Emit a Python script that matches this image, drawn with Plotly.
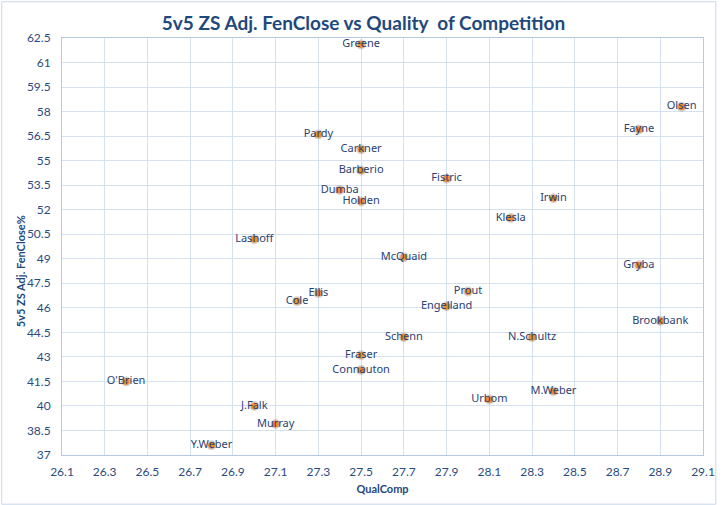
import plotly.graph_objects as go

# jugadores, QualComp (x) y FenClose% ajustado (y)
players = ["Greene", "Pardy", "Carkner", "Barberio", "Fistric", "Dumba", "Holden",
           "Lashoff", "McQuaid", "Ellis", "Cole", "Prout", "Engelland", "Schenn",
           "Fraser", "Connauton", "J.Falk", "Murray", "O'Brien", "Y.Weber",
           "Olsen", "Fayne", "Irwin", "Klesla", "Gryba", "Brookbank", "N.Schultz",
           "M.Weber", "Urbom"]
qualcomp = [27.5, 27.3, 27.5, 27.5, 27.9, 27.4, 27.5,
            27.0, 27.7, 27.3, 27.2, 28.0, 27.9, 27.7,
            27.5, 27.5, 27.0, 27.1, 26.4, 26.8,
            29.0, 28.8, 28.4, 28.2, 28.8, 28.9, 28.3,
            28.4, 28.1]
fenclose = [62.1, 56.6, 55.7, 54.4, 53.9, 53.2, 52.5,
            50.2, 49.1, 46.9, 46.4, 47.0, 46.1, 44.2,
            43.1, 42.2, 40.0, 38.9, 41.5, 37.6,
            58.3, 56.9, 52.7, 51.5, 48.6, 45.2, 44.2,
            40.9, 40.4]

x_ticks = [26.1, 26.3, 26.5, 26.7, 26.9, 27.1, 27.3, 27.5, 27.7, 27.9, 28.1, 28.3, 28.5, 28.7, 28.9, 29.1]
y_ticks = [37, 38.5, 40, 41.5, 43, 44.5, 46, 47.5, 49, 50.5, 52, 53.5, 55, 56.5, 58, 59.5, 61, 62.5]

navy = "#1F497D"
grid = "#D6E1EF"

fig = go.Figure()
# sombra de los puntos
fig.add_trace(go.Scatter(x=qualcomp, y=fenclose, mode="markers",
                         marker=dict(size=10, color="rgba(90,90,90,0.25)"),
                         hoverinfo="skip", showlegend=False))
fig.add_trace(go.Scatter(
    x=qualcomp, y=fenclose, mode="markers+text", text=players,
    textposition="middle center",
    textfont=dict(family="Noto Sans", size=11, color="#2B3F72"),
    marker=dict(size=7, color="#F38B2F"),
    showlegend=False))

fig.update_layout(
    width=727, height=505,
    margin=dict(l=62, r=19, t=38, b=50),
    paper_bgcolor="white", plot_bgcolor="white",
    title=dict(text="<b>5v5 ZS Adj. FenClose vs Quality  of Competition</b>",
               x=0.5, xanchor="center", y=0.953, yanchor="middle",
               font=dict(family="Lato", size=19, color=navy)),
    xaxis=dict(range=[26.1, 29.1], tickvals=x_ticks, ticktext=[str(v) for v in x_ticks],
               showgrid=True, gridcolor=grid, gridwidth=1,
               showline=True, linecolor="#B7C9E2", mirror=True, zeroline=False,
               ticklabelstandoff=6,
               tickfont=dict(family="Lato", size=12, color="#2A4B82"),
               title=dict(text="<b>QualComp</b>", standoff=6,
                          font=dict(family="Lato", size=11, color=navy))),
    yaxis=dict(range=[37, 62.5], tickvals=y_ticks, ticktext=[str(v) for v in y_ticks],
               showgrid=True, gridcolor=grid, gridwidth=1,
               showline=True, linecolor="#B7C9E2", mirror=True, zeroline=False,
               ticklabelstandoff=8,
               tickfont=dict(family="Lato", size=12, color="#2A4B82")),
    annotations=[dict(text="<b>5v5 ZS Adj. FenClose%</b>", textangle=-90,
                      xref="paper", yref="paper", x=-0.0645, y=0.44,
                      xanchor="center", yanchor="middle", showarrow=False,
                      font=dict(family="Lato", size=11, color=navy))],
    shapes=[dict(type="rect", xref="paper", yref="paper",
                 x0=-0.094, x1=1.020, y0=-0.118, y1=1.087,
                 line=dict(color="#C9D7EA", width=1))],
)

# quitar el margen del body para que el grafico quede en la esquina
fig.write_html("out.html", config={"displayModeBar": False},
               post_script="document.body.style.margin='0';")
